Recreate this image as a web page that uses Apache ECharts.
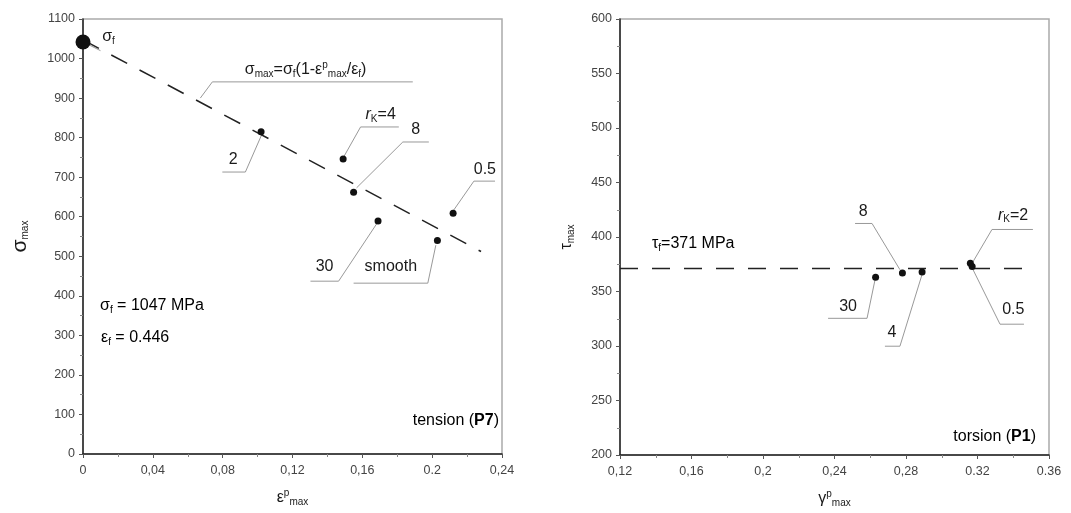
<!DOCTYPE html>
<html>
<head>
<meta charset="utf-8">
<script src="https://cdn.jsdelivr.net/npm/echarts@6/dist/echarts.min.js"></script>
<style>
  html, body { margin: 0; padding: 0; background: #fff; }
  #chart { width: 1071px; height: 513px; }
</style>
</head>
<body>
<div id="chart"></div>
<script>
// tension (P7)
var tensionPoints = [[0.102, 815], [0.149, 746], [0.155, 662], [0.169, 589], [0.203, 540], [0.212, 609]]
var sigmaF = [[0, 1042]]
var tensionFit = [[0, 1047], [0.228, 512]]
var leftXTicks = ['0', '0,04', '0,08', '0,12', '0,16', '0.2', '0,24']

// torsion (P1)
var torsionPoints = [[0.263, 363], [0.278, 367], [0.289, 368], [0.316, 376], [0.317, 373]]
var torsionFit = [[0.12, 371], [0.348, 371]]
var rightXTicks = ['0,12', '0,16', '0,2', '0,24', '0,28', '0.32', '0.36']

// callouts: leader polyline (data coords) + text anchor
var leftLeaders = [
  [[0.0672, 900], [0.0741, 941], [0.1889, 941]],
  [[0.1028, 812], [0.0930, 713], [0.0798, 713]],
  [[0.1493, 751], [0.159, 827], [0.1809, 827]],
  [[0.1567, 673], [0.1832, 789], [0.1981, 789]],
  [[0.2119, 614], [0.2239, 690], [0.236, 690]],
  [[0.1682, 582], [0.1464, 437], [0.1303, 437]],
  [[0.2021, 528], [0.1975, 432], [0.155, 432]],
  [[0, 1042], [0.01, 1020]]
]
var leftTexts = [
  [0.1275, 972, '{s|σ}{sub|max}{s|=σ}{sub|f}{s|(1-ε}{sup|p}{sub|max}{s|/ε}{sub|f}{s|)}'],
  [0.0861, 745, '{s|2}'],
  [0.1705, 858, '{i|r}{sub|K}{s|=4}'],
  [0.1906, 820, '{s|8}'],
  [0.2302, 720, '{s|0.5}'],
  [0.1384, 475, '{s|30}'],
  [0.1763, 475, '{s|smooth}'],
  [0.0146, 1056, '{s|σ}{sub|f}']
]
var rightLeaders = [
  [[0.2766, 370], [0.261, 412.4], [0.2515, 412.4]],
  [[0.3169, 375.7], [0.3281, 406.9], [0.351, 406.9]],
  [[0.2627, 361], [0.2582, 325.4], [0.2364, 325.4]],
  [[0.289, 365.7], [0.2766, 299.8], [0.2682, 299.8]],
  [[0.3175, 370], [0.3326, 320], [0.346, 320]]
]
var rightTexts = [
  [0.256, 423, '{s|8}'],
  [0.3399, 420, '{i|r}{sub|K}{s|=2}'],
  [0.2476, 336, '{s|30}'],
  [0.2722, 312, '{s|4}'],
  [0.340, 333, '{s|0.5}']
]

var FONT = '"Liberation Sans", Arial, sans-serif'
var INK = '#1a1a1a'
var rich = {
  s: { fontSize: 16, color: INK, fontFamily: FONT },
  i: { fontSize: 16, color: INK, fontStyle: 'italic', fontFamily: FONT },
  b: { fontSize: 16, color: INK, fontWeight: 'bold', fontFamily: FONT },
  big: { fontSize: 21, color: INK, fontFamily: FONT },
  sub: { fontSize: 10, color: INK, fontFamily: FONT, padding: [9, 0, 0, 0] },
  sup: { fontSize: 10, color: INK, fontFamily: FONT, padding: [0, 0, 9, 0] }
}

function tickFmt(ticks, min) {
  return function (v) {
    var i = Math.round((v - min) / 0.04)
    return ticks[i] !== undefined ? ticks[i] : ''
  }
}

function xAxisOf(idx, min, max, ticks, name) {
  return {
    type: 'value', gridIndex: idx, min: min, max: max, interval: 0.04,
    name: name, nameLocation: 'middle', nameGap: 34,
    nameTextStyle: { rich: rich },
    axisLine: { onZero: false, lineStyle: { color: '#222', width: 1.5 } },
    axisTick: { length: 4, lineStyle: { color: '#555' } },
    minorTick: { show: true, splitNumber: 2, length: 3, lineStyle: { color: '#888' } },
    axisLabel: { color: '#444', fontSize: 12.5, fontFamily: FONT, margin: 10, formatter: tickFmt(ticks, min) },
    splitLine: { show: false }
  }
}

function yAxisOf(idx, min, max, interval, name, gap) {
  return {
    type: 'value', gridIndex: idx, min: min, max: max, interval: interval,
    name: name, nameLocation: 'middle', nameGap: gap, nameRotate: 90,
    nameTextStyle: { rich: rich },
    axisLine: { onZero: false, lineStyle: { color: '#222', width: 1.5 } },
    axisTick: { length: 4, lineStyle: { color: '#555' } },
    minorTick: { show: true, splitNumber: 2, length: 3, lineStyle: { color: '#888' } },
    axisLabel: { color: '#444', fontSize: 12.5, fontFamily: FONT, margin: 8, formatter: function (v) { return String(v) } },
    splitLine: { show: false }
  }
}

function leaderSeries(leaders, idx) {
  return leaders.map(function (pts) {
    return {
      type: 'line', xAxisIndex: idx, yAxisIndex: idx, data: pts,
      symbol: 'none', silent: true, z: 1,
      lineStyle: { color: '#999', width: 1 }
    }
  })
}

function textSeries(texts, idx) {
  return {
    type: 'scatter', xAxisIndex: idx, yAxisIndex: idx, data: texts,
    symbolSize: 0, silent: true, itemStyle: { opacity: 1 },
    label: {
      show: true, position: 'inside', color: INK, fontSize: 16, fontFamily: FONT,
      formatter: function (p) { return p.data[2] }, rich: rich
    }
  }
}

var chart = echarts.init(document.getElementById('chart'))
chart.setOption({
  animation: false,
  backgroundColor: '#fff',
  grid: [
    { left: 83, right: 569, top: 19, bottom: 59, show: true, borderColor: '#aaa', borderWidth: 1.5 },
    { left: 620, right: 22, top: 19, bottom: 57, show: true, borderColor: '#aaa', borderWidth: 1.5 }
  ],
  xAxis: [
    xAxisOf(0, 0, 0.24, leftXTicks, '{s|ε}{sup|p}{sub|max}'),
    xAxisOf(1, 0.12, 0.36, rightXTicks, '{s|γ}{sup|p}{sub|max}')
  ],
  yAxis: [
    yAxisOf(0, 0, 1100, 100, '{big|σ}{sub|max}', 52),
    yAxisOf(1, 200, 600, 50, '{s|τ}{sub|max}', 44)
  ],
  graphic: [
    { type: 'text', left: 100, top: 298, style: { text: '{s|σ}{sub|f}{s| = 1047 MPa}', rich: rich } },
    { type: 'text', left: 101, top: 330, style: { text: '{s|ε}{sub|f}{s| = 0.446}', rich: rich } },
    { type: 'text', right: 572, top: 413, style: { text: '{s|tension (}{b|P7}{s|)}', rich: rich } },
    { type: 'text', left: 652, top: 236, style: { text: '{s|τ}{sub|f}{s|=371 MPa}', rich: rich } },
    { type: 'text', right: 35, top: 429, style: { text: '{s|torsion (}{b|P1}{s|)}', rich: rich } }
  ],
  series: [].concat(
    leaderSeries(leftLeaders, 0),
    leaderSeries(rightLeaders, 1),
    [
      {
        type: 'line', xAxisIndex: 0, yAxisIndex: 0, data: tensionFit, symbol: 'none', silent: true,
        lineStyle: { color: '#222', width: 1.5, type: [18, 14] }
      },
      {
        type: 'line', xAxisIndex: 1, yAxisIndex: 1, data: torsionFit, symbol: 'none', silent: true,
        lineStyle: { color: '#222', width: 1.5, type: [18, 14] }
      },
      {
        type: 'scatter', xAxisIndex: 0, yAxisIndex: 0, data: tensionPoints,
        symbol: 'circle', symbolSize: 7, itemStyle: { color: '#111', opacity: 1 }, z: 5
      },
      {
        type: 'scatter', xAxisIndex: 0, yAxisIndex: 0, data: sigmaF,
        symbol: 'circle', symbolSize: 15, itemStyle: { color: '#111', opacity: 1 }, z: 5
      },
      {
        type: 'scatter', xAxisIndex: 1, yAxisIndex: 1, data: torsionPoints,
        symbol: 'circle', symbolSize: 7, itemStyle: { color: '#111', opacity: 1 }, z: 5
      },
      textSeries(leftTexts, 0),
      textSeries(rightTexts, 1)
    ]
  )
})
</script>
</body>
</html>
